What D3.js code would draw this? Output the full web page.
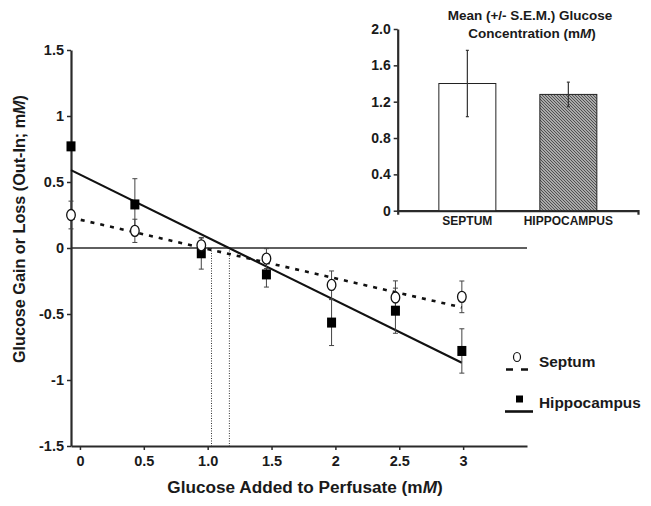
<!DOCTYPE html>
<html><head><meta charset="utf-8">
<script src="https://cdn.jsdelivr.net/npm/d3@7"></script>
<style>
body{margin:0;background:#fff}
svg{display:block}
text{font-family:"Liberation Sans",Arial,sans-serif;font-weight:bold;fill:#1a1a1a}
</style>
</head><body>
<svg id="c" width="651" height="506"></svg>
<script>
// ---- data ----
const doseX = [-0.07, 0.43, 0.95, 1.46, 1.97, 2.47, 2.99];
const septumMean = [0.25, 0.13, 0.02, -0.08, -0.28, -0.375, -0.37];
const septumSem = [0.105, 0.088, 0.055, 0.075, 0.106, 0.126, 0.12];
const hippoMean = [0.77, 0.33, -0.04, -0.2, -0.565, -0.475, -0.78];
const hippoSem = [0, 0.195, 0.12, 0.096, 0.174, 0.171, 0.168];
const septumFit = [[-0.07, 0.23], [2.99, -0.45]];
const hippoFit = [[-0.07, 0.59], [2.99, -0.87]];
const interceptX = [1.03, 1.17];
const xTicks = [0, 0.5, 1, 1.5, 2, 2.5, 3];
const xTickLabels = ["0", "0.5", "1.0", "1.5", "2", "2.5", "3"];
const yTicks = [1.5, 1, 0.5, 0, -0.5, -1, -1.5];
const yTickLabels = ["1.5", "1", "0.5", "0", "-0.5", "-1", "-1.5"];
const insetCats = ["SEPTUM", "HIPPOCAMPUS"];
const insetMean = [1.40, 1.28];
const insetSem = [0.365, 0.135];
const insetTicks = [0, 0.4, 0.8, 1.2, 1.6, 2.0];
const insetTickLabels = ["0", "0.4", "0.8", "1.2", "1.6", "2.0"];
const legendNames = ["Septum", "Hippocampus"];

const svg = d3.select("#c");
const ink = "#2a2a2a";

// hatch pattern
const defs = svg.append("defs");
const pat = defs.append("pattern").attr("id", "hatch").attr("patternUnits", "userSpaceOnUse")
  .attr("width", 3).attr("height", 3);
pat.append("rect").attr("width", 3).attr("height", 3).attr("fill", "#d0d0d0");
pat.append("path").attr("d", "M-1,-1 L4,4 M-1,2 L1,4 M2,-1 L4,1").attr("stroke", "#4a4a4a").attr("stroke-width", 1.1);

// ---- main chart ----
const x = d3.scaleLinear().domain([-0.07, 3.5]).range([71, 527]);
const y = d3.scaleLinear().domain([-1.5, 1.5]).range([446, 50]);

function styleAxis(g, fs) {
  g.select(".domain").attr("stroke", ink).attr("stroke-width", 2.2);
  g.selectAll(".tick line").attr("stroke", ink).attr("stroke-width", 1.5);
  g.selectAll(".tick text").attr("font-size", fs).attr("font-family", null).attr("fill", "#1a1a1a");
}

const gy = svg.append("g").attr("transform", "translate(71,0)")
  .call(d3.axisLeft(y).tickValues(yTicks).tickFormat((d, i) => yTickLabels[i]).tickSize(4).tickSizeOuter(0).tickPadding(3));
styleAxis(gy, 14.5);

const gx = svg.append("g").attr("transform", "translate(0,446)")
  .call(d3.axisBottom(x).tickValues(xTicks).tickFormat((d, i) => xTickLabels[i]).tickSize(4).tickSizeOuter(0).tickPadding(5.5));
styleAxis(gx, 14.5);

// zero line
svg.append("line").attr("x1", x.range()[0]).attr("x2", x.range()[1])
  .attr("y1", y(0)).attr("y2", y(0)).attr("stroke", ink).attr("stroke-width", 1.6);

// dotted intercept lines
svg.selectAll(".icpt").data(interceptX).join("line")
  .attr("x1", d => x(d)).attr("x2", d => x(d)).attr("y1", y(0)).attr("y2", y(-1.5))
  .attr("stroke", "#333").attr("stroke-width", 1).attr("stroke-dasharray", "1,1.5");

// regression lines
const line = d3.line().x(d => x(d[0])).y(d => y(d[1]));
svg.append("path").attr("d", line(septumFit)).attr("fill", "none").attr("stroke", "#111")
  .attr("stroke-width", 2.6).attr("stroke-dasharray", "4,6");
svg.append("path").attr("d", line(hippoFit)).attr("fill", "none").attr("stroke", "#111")
  .attr("stroke-width", 2.2);

// error bars
function errBars(means, sems) {
  const g = svg.append("g").attr("stroke", "#444").attr("stroke-width", 1);
  means.forEach((m, i) => {
    if (!sems[i]) return;
    const cx = x(doseX[i]), y1 = y(m + sems[i]), y2 = y(m - sems[i]);
    g.append("line").attr("x1", cx).attr("x2", cx).attr("y1", y1).attr("y2", y2);
    g.append("line").attr("x1", cx - 2.5).attr("x2", cx + 2.5).attr("y1", y1).attr("y2", y1);
    g.append("line").attr("x1", cx - 2.5).attr("x2", cx + 2.5).attr("y1", y2).attr("y2", y2);
  });
}
errBars(septumMean, septumSem);
errBars(hippoMean, hippoSem);

// markers
svg.selectAll(".sq").data(hippoMean).join("rect")
  .attr("x", (d, i) => x(doseX[i]) - 4.5).attr("y", d => y(d) - 5)
  .attr("width", 9).attr("height", 10).attr("fill", "#000");
svg.selectAll(".ci").data(septumMean).join("ellipse")
  .attr("cx", (d, i) => x(doseX[i])).attr("cy", d => y(d))
  .attr("rx", 4.3).attr("ry", 5.5).attr("fill", "#fff").attr("stroke", "#111").attr("stroke-width", 1.3);

// axis titles
const xl = svg.append("text").attr("x", 305).attr("y", 493).attr("text-anchor", "middle").attr("font-size", 17.2);
xl.append("tspan").text("Glucose Added to Perfusate (m");
xl.append("tspan").attr("font-style", "italic").text("M");
xl.append("tspan").text(")");

const yl = svg.append("text").attr("transform", "translate(25,229) rotate(-90)").attr("text-anchor", "middle").attr("font-size", 16.2);
yl.append("tspan").text("Glucose Gain or Loss (Out-In; m");
yl.append("tspan").attr("font-style", "italic").text("M");
yl.append("tspan").text(")");

// legend
svg.append("ellipse").attr("cx", 517).attr("cy", 357).attr("rx", 3.5).attr("ry", 4.5)
  .attr("fill", "#fff").attr("stroke", "#111").attr("stroke-width", 1.2);
svg.append("line").attr("x1", 506).attr("x2", 528).attr("y1", 369.5).attr("y2", 369.5)
  .attr("stroke", "#111").attr("stroke-width", 2.6).attr("stroke-dasharray", "7,8");
svg.append("rect").attr("x", 516).attr("y", 395.5).attr("width", 7).attr("height", 7).attr("fill", "#000");
svg.append("line").attr("x1", 505).attr("x2", 533).attr("y1", 411.5).attr("y2", 411.5)
  .attr("stroke", "#111").attr("stroke-width", 2.6);
svg.selectAll(".lg").data(legendNames).join("text")
  .attr("x", 539).attr("y", (d, i) => [367.3, 408.3][i]).attr("font-size", 15.4).text(d => d);

// ---- inset ----
const xi = d3.scaleBand().domain(insetCats).range([397.7, 638]).paddingInner(0.4356).paddingOuter(0.4075);
const yi = d3.scaleLinear().domain([0, 2]).range([210.7, 29]);

const giy = svg.append("g").attr("transform", "translate(397.7,0)")
  .call(d3.axisLeft(yi).tickValues(insetTicks).tickFormat((d, i) => insetTickLabels[i]).tickSize(4).tickSizeOuter(0).tickPadding(3));
styleAxis(giy, 14);

const gix = svg.append("g").attr("transform", "translate(0,210.7)")
  .call(d3.axisBottom(xi).tickSizeInner(0).tickSizeOuter(4).tickPadding(5.8));
styleAxis(gix, 12);

svg.selectAll(".bar").data(insetMean).join("rect")
  .attr("x", (d, i) => xi(insetCats[i])).attr("y", d => yi(d))
  .attr("width", xi.bandwidth()).attr("height", d => yi(0) - yi(d))
  .attr("fill", (d, i) => i === 0 ? "#fff" : "url(#hatch)")
  .attr("stroke", "#222").attr("stroke-width", 1);

const gie = svg.append("g").attr("stroke", "#333").attr("stroke-width", 1.2);
insetMean.forEach((m, i) => {
  const cx = xi(insetCats[i]) + xi.bandwidth() / 2;
  gie.append("line").attr("x1", cx).attr("x2", cx).attr("y1", yi(m + insetSem[i])).attr("y2", yi(m - insetSem[i]));
  [m + insetSem[i], m - insetSem[i]].forEach(v =>
    gie.append("line").attr("x1", cx - 1.5).attr("x2", cx + 1.5).attr("y1", yi(v)).attr("y2", yi(v)));
});

const t1 = svg.append("text").attr("x", 530).attr("y", 19.5).attr("text-anchor", "middle").attr("font-size", 13.5)
  .text("Mean (+/- S.E.M.) Glucose");
const t2 = svg.append("text").attr("x", 532).attr("y", 37.5).attr("text-anchor", "middle").attr("font-size", 13.5);
t2.append("tspan").text("Concentration (m");
t2.append("tspan").attr("font-style", "italic").text("M");
t2.append("tspan").text(")");
</script>
</body></html>
